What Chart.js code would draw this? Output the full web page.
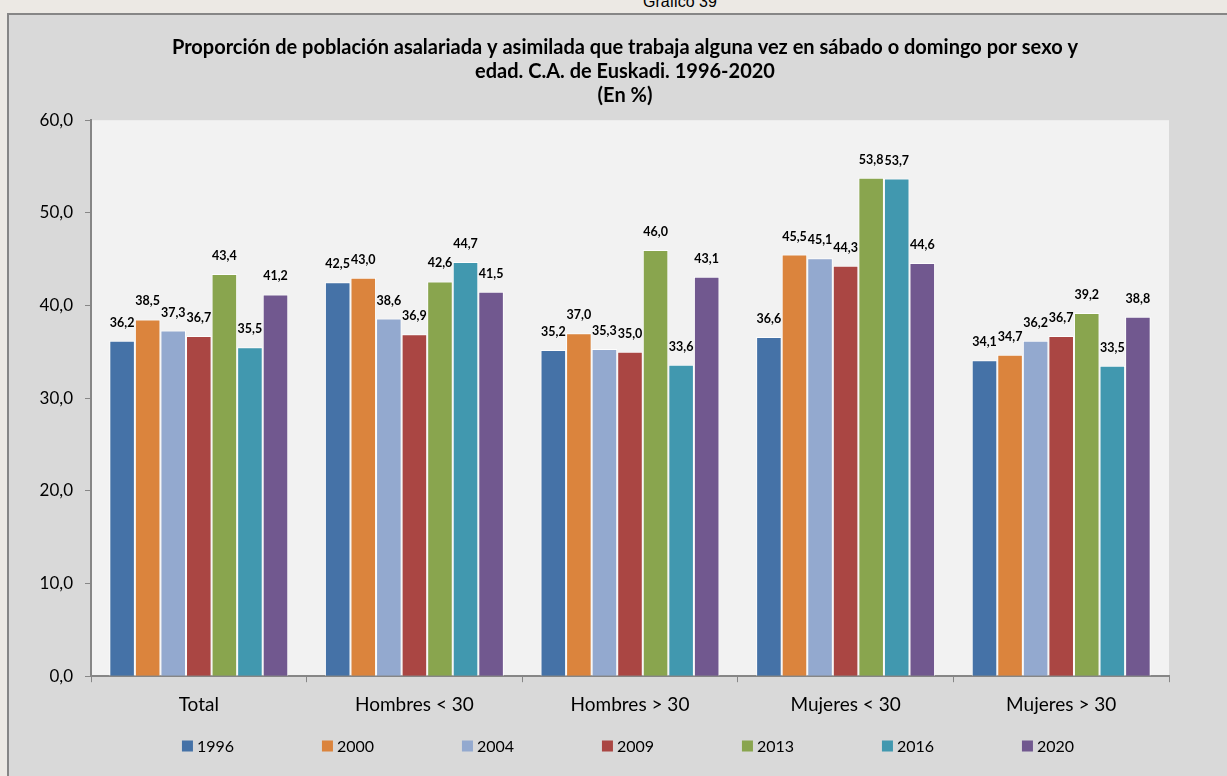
<!DOCTYPE html>
<html>
<head>
<meta charset="utf-8">
<script src="https://cdn.jsdelivr.net/npm/chart.js@4"></script>
<style>
    html, body { margin: 0; padding: 0; background: #ece9e4; overflow: hidden; }
    #caption { position: absolute; top: -7px; left: 643px; font: 16px "Liberation Sans", Arial, sans-serif; color: #000; }
    #box { position: absolute; left: 7px; top: 13px; width: 1240px; height: 800px; background: #d9d9d9; border: 2px solid #868686; }
    #wrap { position: absolute; left: 0; top: 0; width: 1232px; height: 776px; }
</style>
</head>
<body>
<div id="caption">Gráfico 39</div>
<div id="box"><div id="wrap"><canvas id="myChart"></canvas></div></div>
<script>
const categories = ["Total", "Hombres < 30", "Hombres > 30", "Mujeres < 30", "Mujeres > 30"];
const years = ["1996", "2000", "2004", "2009", "2013", "2016", "2020"];
const v1996 = [36.2, 42.5, 35.2, 36.6, 34.1];
const v2000 = [38.5, 43.0, 37.0, 45.5, 34.7];
const v2004 = [37.3, 38.6, 35.3, 45.1, 36.2];
const v2009 = [36.7, 36.9, 35.0, 44.3, 36.7];
const v2013 = [43.4, 42.6, 46.0, 53.8, 39.2];
const v2016 = [35.5, 44.7, 33.6, 53.7, 33.5];
const v2020 = [41.2, 41.5, 43.1, 44.6, 38.8];
const yTicks = [0, 10, 20, 30, 40, 50, 60];

const seriesValues = [v1996, v2000, v2004, v2009, v2013, v2016, v2020];
const colors = ["#4572a7", "#db843d", "#93a9cf", "#aa4643", "#89a54e", "#4198af", "#71588f"];

const fmt = (n) => n.toFixed(1).replace(".", ",");

// fondo gris claro del area de trazado
const plotBg = {
    id: "plotBg",
    beforeDraw(chart) {
        const a = chart.chartArea;
        const ctx = chart.ctx;
        ctx.save();
        ctx.fillStyle = "#f2f2f2";
        ctx.fillRect(a.left, a.top, a.right - a.left, a.bottom - a.top);
        ctx.restore();
    }
};

// etiquetas de valor encima de cada barra
const valueLabels = {
    id: "valueLabels",
    afterDatasetsDraw(chart) {
        const ctx = chart.ctx;
        ctx.save();
        ctx.font = "bold 12.5px Lato";
        ctx.fillStyle = "#000";
        ctx.textAlign = "center";
        ctx.textBaseline = "middle";
        chart.data.datasets.forEach((ds, i) => {
            chart.getDatasetMeta(i).data.forEach((bar, j) => {
                ctx.fillText(fmt(ds.data[j]), bar.x, bar.y - 18);
            });
        });
        ctx.restore();
    }
};

// leyenda inferior (espaciado ancho como en Excel)
const bottomLegend = {
    id: "bottomLegend",
    afterDraw(chart) {
        const ctx = chart.ctx;
        const step = 140, box = 11, gap = 4;
        const y = 731;
        ctx.save();
        ctx.font = "16px Lato";
        ctx.textBaseline = "middle";
        ctx.textAlign = "left";
        const sets = chart.data.datasets;
        const lastW = box + gap + ctx.measureText(sets[sets.length - 1].label).width;
        const total = step * (sets.length - 1) + lastW;
        let x = chart.width / 2 - total / 2 + 3;
        sets.forEach((ds) => {
            ctx.fillStyle = ds.backgroundColor;
            ctx.fillRect(x, y - box / 2, box, box);
            ctx.fillStyle = "#000";
            ctx.fillText(ds.label, x + box + gap, y + 1);
            x += step;
        });
        ctx.restore();
    }
};

let ctx = document.getElementById("myChart").getContext("2d");

let myChart = new Chart(ctx, {
    type: "bar",
    data: {
        labels: categories,
        datasets: years.map((y, i) => ({
            label: y,
            data: seriesValues[i],
            backgroundColor: colors[i],
            borderColor: "rgba(255,255,255,0.8)",
            borderWidth: 1,
            categoryPercentage: 0.83,
            barPercentage: 1.0
        }))
    },
    options: {
        responsive: true,
        maintainAspectRatio: false,
        animation: false,
        layout: { padding: { left: 0, right: 0, top: 0, bottom: 64 } },
        scales: {
            x: {
                grid: { display: true, drawOnChartArea: false, offset: true, tickLength: 6, color: "#868686" },
                border: { color: "#868686", width: 2 },
                ticks: { color: "#000", font: { family: "Lato", size: 19 }, padding: 11 }
            },
            y: {
                min: 0,
                max: 60,
                afterBuildTicks: (axis) => { axis.ticks = yTicks.map(v => ({ value: v })); },
                afterFit: (axis) => { axis.width = 82; },
                grid: { display: true, drawOnChartArea: false, tickLength: 6, color: "#868686" },
                border: { color: "#868686", width: 2 },
                ticks: { color: "#000", font: { family: "Lato", size: 17 }, padding: 12, callback: (v) => fmt(v) }
            },
            yRight: {
                position: "right",
                min: 0,
                max: 60,
                afterFit: (axis) => { axis.width = 72; },
                grid: { display: false },
                border: { display: false },
                ticks: { display: false }
            }
        },
        plugins: {
            title: {
                display: true,
                text: ["Proporción de población asalariada y asimilada que trabaja alguna vez en sábado o domingo por sexo y", "edad. C.A. de Euskadi. 1996-2020", "(En %)"],
                color: "#000",
                font: { family: "Lato", size: 20, weight: "bold", lineHeight: 1.22 },
                padding: { top: 20, bottom: 12 }
            },
            legend: { display: false },
            tooltip: { enabled: false }
        }
    },
    plugins: [plotBg, valueLabels, bottomLegend]
});
</script>
</body>
</html>
